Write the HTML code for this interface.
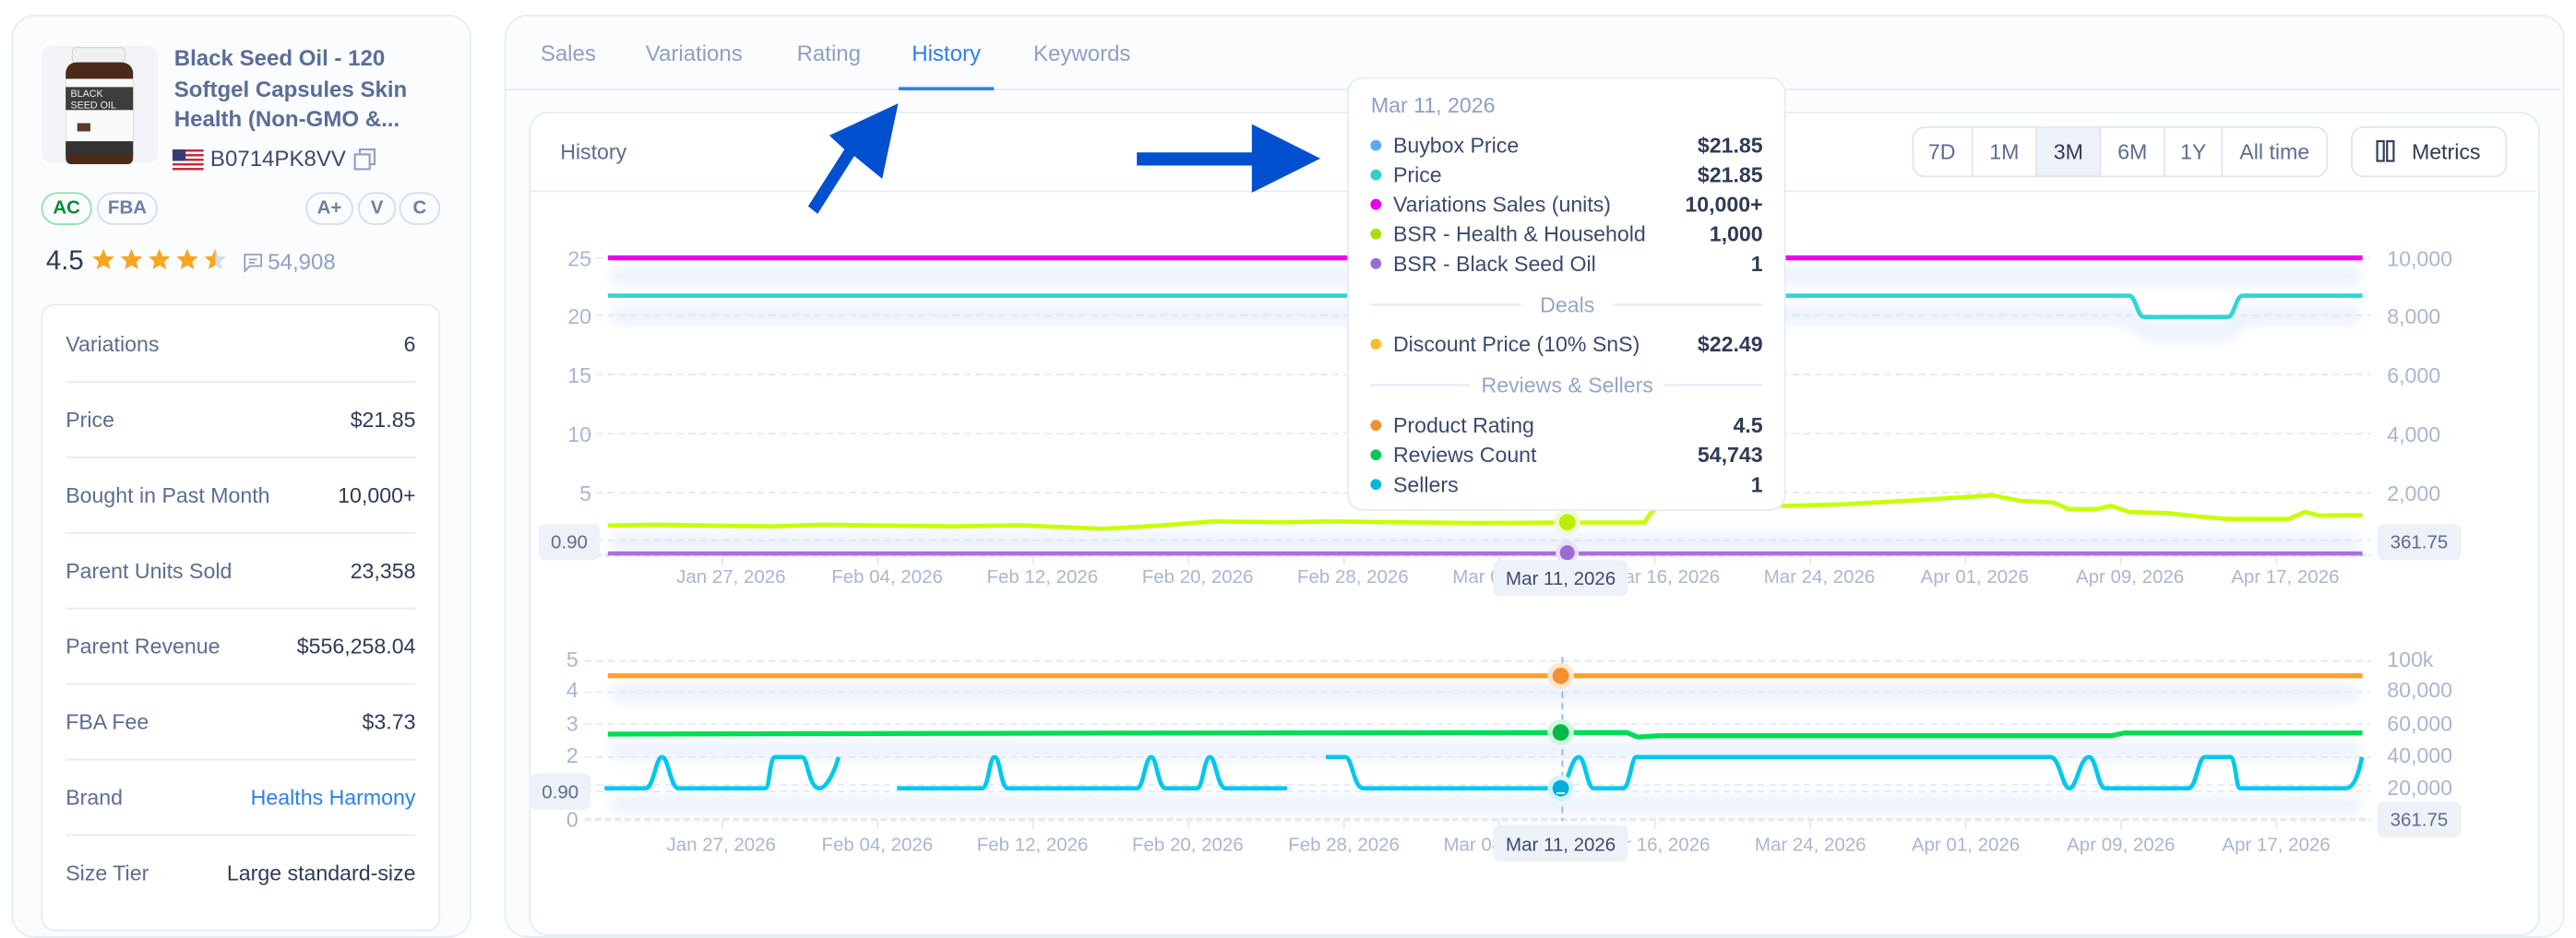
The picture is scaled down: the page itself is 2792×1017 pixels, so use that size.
<!DOCTYPE html>
<html><head><meta charset="utf-8"><style>
html,body{margin:0;padding:0;background:#fff;width:2792px;height:972px;overflow:hidden}
#s{position:absolute;left:0;top:0;width:1568px;height:546px;transform:scale(1.780612);transform-origin:0 0;font-family:"Liberation Sans",sans-serif}
.a{position:absolute}
.card{position:absolute;border:1px solid #e6ebf4;border-radius:14px;background:#fbfcfe}
.row{position:absolute;left:15px;right:15px;height:46px;border-bottom:1px solid #e6ebf4;font-size:13px;color:#5b6d90}
.row span{position:absolute;top:16px}
.row b{position:absolute;right:0;top:16px;font-weight:normal;color:#2f3b55}
.badge{position:absolute;top:117px;height:18px;border:1px solid #d5dcea;border-radius:10px;font-size:11.5px;font-weight:bold;color:#6d7fa3;text-align:center;line-height:18px}
</style></head><body><div id="s">
<div class="card" style="left:7px;top:9px;width:278px;height:560px"></div>
<div class="a" style="left:25px;top:28px;width:71px;height:71px;background:#f2f4f8;border-radius:6px"></div>
<svg class="a" style="left:25px;top:28px" width="71" height="72">
<rect x="19" y="1" width="32" height="9" rx="2" fill="#f0f0f0" stroke="#ccc" stroke-width=".5"/>
<path d="M15 16 Q16 10 22 10 L48 10 Q55 10 56 16 L56 68 Q56 72 52 72 L19 72 Q15 72 15 68Z" fill="#4a2b1a"/>
<rect x="15" y="20" width="41" height="44" fill="#fafafa"/>
<rect x="15" y="25" width="41" height="14" fill="#3d3d3d"/>
<text x="18" y="31" font-size="6" fill="#eee">BLACK</text><text x="18" y="38" font-size="6" fill="#eee">SEED OIL</text>
<rect x="15" y="58" width="41" height="8" fill="#333"/>
<rect x="22" y="47" width="8" height="5" fill="#5a3a2a"/>
</svg>
<div class="a" style="left:106px;top:27px;width:170px;font-size:13.5px;font-weight:bold;color:#5a6e98;line-height:18.5px">Black Seed Oil - 120<br>Softgel Capsules Skin<br>Health (Non-GMO &amp;...</div>
<svg class="a" style="left:105px;top:91px" width="19" height="13"><rect width="19" height="13" fill="#fff"/><g fill="#c8283a"><rect y="0" width="19" height="1.4"/><rect y="2.8" width="19" height="1.4"/><rect y="5.6" width="19" height="1.4"/><rect y="8.4" width="19" height="1.4"/><rect y="11.2" width="19" height="1.4"/></g><rect width="8" height="7" fill="#3c3b6e"/></svg>
<div class="a" style="left:128px;top:89px;font-size:13.5px;color:#3b4a6b">B0714PK8VV</div>
<svg class="a" style="left:215px;top:90px" width="15" height="15"><rect x="4" y="1" width="9" height="9" fill="none" stroke="#8ea0c4" stroke-width="1.2"/><rect x="1" y="4" width="9" height="9" fill="#fbfcfe" stroke="#8ea0c4" stroke-width="1.2"/></svg>
<div class="badge" style="left:25px;width:29px;border-color:#8fe0ad;color:#0d8a3a">AC</div>
<div class="badge" style="left:59px;width:35px">FBA</div>
<div class="badge" style="left:186px;width:27px">A+</div>
<div class="badge" style="left:218px;width:21px">V</div>
<div class="badge" style="left:243px;width:23px">C</div>
<div class="a" style="left:28px;top:150px;font-size:16.5px;color:#2f3b55">4.5</div>
<svg class="a" style="left:56px;top:151px" width="90" height="16">
<defs><linearGradient id="hs"><stop offset="50%" stop-color="#f6a623"/><stop offset="50%" stop-color="#d5dcea"/></linearGradient>
<polygon id="st" points="7,0.5 8.9,5 13.6,5.3 10,8.4 11.1,13 7,10.5 2.9,13 4,8.4 0.4,5.3 5.1,5"/></defs>
<use href="#st" fill="#f6a623"/><use href="#st" x="17" fill="#f6a623"/><use href="#st" x="34" fill="#f6a623"/><use href="#st" x="51" fill="#f6a623"/><use href="#st" x="68" fill="url(#hs)"/>
</svg>
<svg class="a" style="left:148px;top:154px" width="12" height="12"><path d="M1 1 H11 V8 H4 L1 11Z" fill="none" stroke="#8ea0c4" stroke-width="1"/><path d="M3.5 4H8.5M3.5 6H7" stroke="#8ea0c4"/></svg>
<div class="a" style="left:163px;top:152px;font-size:13.5px;color:#8ea0c4">54,908</div>
<div class="a" style="left:25px;top:185px;width:241px;height:380px;border:1px solid #e6ebf4;border-radius:8px;background:#fff"></div>
<div class="row" style="left:40px;width:213px;top:186px"><span style="left:0">Variations</span><b>6</b></div>
<div class="row" style="left:40px;width:213px;top:232px"><span style="left:0">Price</span><b>$21.85</b></div>
<div class="row" style="left:40px;width:213px;top:278px"><span style="left:0">Bought in Past Month</span><b>10,000+</b></div>
<div class="row" style="left:40px;width:213px;top:324px"><span style="left:0">Parent Units Sold</span><b>23,358</b></div>
<div class="row" style="left:40px;width:213px;top:370px"><span style="left:0">Parent Revenue</span><b>$556,258.04</b></div>
<div class="row" style="left:40px;width:213px;top:416px"><span style="left:0">FBA Fee</span><b>$3.73</b></div>
<div class="row" style="left:40px;width:213px;top:462px"><span style="left:0">Brand</span><b style="color:#2f7fe8">Healths Harmony</b></div>
<div class="row" style="left:40px;width:213px;top:508px;border:none"><span style="left:0">Size Tier</span><b>Large standard-size</b></div>
<div class="card" style="left:307px;top:9px;width:1252px;height:560px;background:#fbfcfe"></div>
<div class="a" style="left:308px;top:54px;width:1251px;height:1px;background:#e6ebf4"></div>
<div class="a" style="left:322px;top:68px;width:1222px;height:500px;border:1px solid #e6ebf4;border-radius:12px;background:#fff"></div>
<div class="a" style="left:323px;top:116px;width:1221px;height:1px;background:#e9edf5"></div>
<svg class="a" style="left:0;top:0" width="1568" height="546" font-family="Liberation Sans, sans-serif">
<defs><filter id="bl" x="-5%" y="-100%" width="110%" height="300%"><feGaussianBlur stdDeviation="4"/></filter></defs>
<g font-size="13.5" fill="#8ea0c4"><text x="329" y="37">Sales</text><text x="393" y="37">Variations</text><text x="485" y="37">Rating</text><text x="555" y="37" fill="#2f7fe8">History</text><text x="629" y="37">Keywords</text></g>
<rect x="547" y="53" width="58" height="2" fill="#2f7fe8"/>
<text x="341" y="97" font-size="13" fill="#5b6d90">History</text>
<rect x="1164.5" y="77.5" width="252" height="30" rx="7" fill="#fff" stroke="#dfe5f0"/>
<rect x="1240" y="78" width="38.5" height="29" fill="#edf1f8"/>
<g stroke="#dfe5f0"><path d="M1200.5 78V107M1239.5 78V107M1278.5 78V107M1317.5 78V107M1352.5 78V107"/></g>
<g font-size="13" fill="#5b6d90" text-anchor="middle"><text x="1182" y="97">7D</text><text x="1220" y="97">1M</text><text x="1259" y="97" fill="#2f3b55">3M</text><text x="1298" y="97">6M</text><text x="1335" y="97">1Y</text><text x="1384.5" y="97">All time</text></g>
<rect x="1431.5" y="77.5" width="94" height="30" rx="7" fill="#fff" stroke="#dfe5f0"/>
<rect x="1447" y="86" width="4" height="12" fill="none" stroke="#2f3b55" stroke-width="1.2"/><rect x="1453" y="86" width="4" height="12" fill="none" stroke="#2f3b55" stroke-width="1.2"/>
<text x="1468" y="97" font-size="13" fill="#2f3b55">Metrics</text>
<g stroke="#e3e8f2" stroke-dasharray="4 3"><path d="M356 157H1443M356 192H1443M356 228H1443M356 264H1443M356 300H1443M356 329H1443"/></g>
<path d="M356 338H1443" stroke="#e3e8f2" stroke-width="2" stroke-dasharray="4 2"/>
<g stroke="#e3e8f2"><path d="M439.7 338v6M534.3 338v6M628.9 338v6M723.5 338v6M818.1 338v6M912.7 338v6M1007.3 338v6M1101.9 338v6M1196.5 338v6M1291.1 338v6M1385.7 338v6"/></g>
<g font-size="13" fill="#a9b6d1" text-anchor="end"><text x="360" y="162">25</text><text x="360" y="197">20</text><text x="360" y="233">15</text><text x="360" y="269">10</text><text x="360" y="305">5</text></g>
<g font-size="13" fill="#a9b6d1"><text x="1453" y="162">10,000</text><text x="1453" y="197">8,000</text><text x="1453" y="233">6,000</text><text x="1453" y="269">4,000</text><text x="1453" y="305">2,000</text></g>
<g filter="url(#bl)" opacity=".45" fill="none" stroke="#cfe0fa" stroke-width="10">
<path d="M372 168H1436"/><path d="M372 192H1296 L1306 202 H1357 L1364 192 H1436"/><path d="M372 330 H1436"/>
<path d="M372 422H1436"/><path d="M372 457H1436"/><path d="M372 490H1436"/>
</g>
<path d="M370 157H1438" stroke="#ee00ee" stroke-width="3"/>
<path d="M370 180H1296 C1300 180 1301 193 1305 193 H1356 C1360 193 1361 180 1365 180 H1438" fill="none" stroke="#34d4d4" stroke-width="2.6"/>
<path d="M370 337H1438" stroke="#a970e0" stroke-width="2.6"/>
<polyline fill="none" stroke="#c6ff00" stroke-width="2.6" stroke-linejoin="round" points="370,320 400,319.5 430,320 470,320.5 500,319.5 540,320 580,320.5 620,319.8 660,321.5 671,322 706,320 738,317.5 780,318 810,317.5 850,318 900,318.5 945,318.2 1001,318.2 1005,312 1010,308 1087,308 1123,307 1140,306 1160,305 1190,303 1213,301.6 1230,305 1250,306 1259,310 1276,310 1285,308 1296,311.7 1320,312.5 1338,314.5 1356,316 1393,316 1403,311.7 1412,314 1438,313.6"/>
<circle cx="954" cy="318" r="8" fill="#f0fad0" opacity=".9"/><circle cx="954" cy="318" r="5" fill="#b8f000"/>
<circle cx="954" cy="336.5" r="7" fill="#ece0fa"/><circle cx="954" cy="336.5" r="4.5" fill="#9b6bd6"/>
<rect x="328" y="319" width="37" height="22" rx="4" fill="#edf1f8"/><text x="346.5" y="334" font-size="11.5" fill="#5b6d90" text-anchor="middle">0.90</text>
<rect x="1447" y="319" width="51" height="22" rx="4" fill="#edf1f8"/><text x="1472.5" y="334" font-size="11.5" fill="#5b6d90" text-anchor="middle">361.75</text>
<g font-size="11.5" fill="#a9b6d1" text-anchor="middle"><text x="445" y="355">Jan 27, 2026</text><text x="540" y="355">Feb 04, 2026</text><text x="634.5" y="355">Feb 12, 2026</text><text x="729" y="355">Feb 20, 2026</text><text x="823.5" y="355">Feb 28, 2026</text><text x="918" y="355">Mar 08, 2026</text><text x="1013" y="355">Mar 16, 2026</text><text x="1107.5" y="355">Mar 24, 2026</text><text x="1202" y="355">Apr 01, 2026</text><text x="1296.5" y="355">Apr 09, 2026</text><text x="1391" y="355">Apr 17, 2026</text></g>
<rect x="909" y="341" width="82" height="22" rx="4" fill="#edf1f8"/><text x="950" y="356" font-size="11.5" fill="#3b4a6b" text-anchor="middle">Mar 11, 2026</text>
<g stroke="#e3e8f2" stroke-dasharray="4 3"><path d="M356 402.5H1443M356 421.5H1443M356 441H1443M356 461H1443M356 478H1443M356 482H1443"/></g>
<path d="M356 499H1443" stroke="#e3e8f2" stroke-width="2" stroke-dasharray="4 2"/>
<g stroke="#e3e8f2"><path d="M439.7 499v6M534.3 499v6M628.9 499v6M723.5 499v6M818.1 499v6M912.7 499v6M1007.3 499v6M1101.9 499v6M1196.5 499v6M1291.1 499v6M1385.7 499v6"/></g>
<g font-size="13" fill="#a9b6d1" text-anchor="end"><text x="352" y="406">5</text><text x="352" y="424.5">4</text><text x="352" y="445">3</text><text x="352" y="464.5">2</text><text x="352" y="503.5">0</text></g>
<g font-size="13" fill="#a9b6d1"><text x="1453" y="406">100k</text><text x="1453" y="424.5">80,000</text><text x="1453" y="445">60,000</text><text x="1453" y="464.5">40,000</text><text x="1453" y="484">20,000</text></g>
<path d="M951 400V500" stroke="#8fb6f0" stroke-dasharray="4 3"/>
<path d="M370 411.5H1438" stroke="#ffa030" stroke-width="3"/>
<polyline fill="none" stroke="#00dd55" stroke-width="3" stroke-linejoin="round" points="370,447 615,446.5 800,446.2 990,446 997,448.8 1003,448.4 1010,448 1285,448 1293,446.3 1438,446.3"/>
<g fill="none" stroke="#00c8ec" stroke-width="2.6" stroke-linejoin="round">
<path d="M368 480 L393 480 C398 480 399 461 403 461 C407 461 408 480 413 480 L465.7 480 C469 480 468 461 472 461 L488 461 C492 461 492 480 498.8 480 C503 480 508 470 510.4 461"/>
<path d="M546 480 L597.7 480 C602 480 602 461 605.4 461 C609 461 609 480 613.6 480 L692.2 480 C696 480 697 461 700.8 461 C704 461 705 480 709.4 480 L728.8 480 C732 480 733 461 736.5 461 C740 461 741 480 746 480 L783.4 480"/>
<path d="M807 461 L819 461 C823 461 824 480 829.8 480 L950 480 C954 480 956 461 961 461 C965 461 966 480 970 480 L988 480 C992 480 993 461 996 461 L1248 461 C1254 461 1255 480 1259.8 480 C1264 480 1266 461 1271.5 461 C1276 461 1277 480 1281.3 480 L1332 480 C1337 480 1338 461 1342 461 L1357.5 461 C1361 461 1361 480 1363.4 480 L1428 480 C1433 480 1436 470 1437.7 461"/>
</g>
<circle cx="950" cy="411.5" r="8" fill="#fde6cc"/><circle cx="950" cy="411.5" r="5" fill="#f4902f"/>
<circle cx="950" cy="446" r="8" fill="#d2f7df"/><circle cx="950" cy="446" r="5" fill="#00b84a"/>
<circle cx="950" cy="480" r="8" fill="#d4f3fa"/><circle cx="950" cy="480" r="5" fill="#00aedb"/><path d="M947.5 483h5" stroke="#fff"/>
<rect x="322.5" y="471" width="37" height="22" rx="4" fill="#edf1f8"/><text x="341" y="486" font-size="11.5" fill="#5b6d90" text-anchor="middle">0.90</text>
<rect x="1447" y="488" width="51" height="22" rx="4" fill="#edf1f8"/><text x="1472.5" y="503" font-size="11.5" fill="#5b6d90" text-anchor="middle">361.75</text>
<g font-size="11.5" fill="#a9b6d1" text-anchor="middle"><text x="439" y="518">Jan 27, 2026</text><text x="534" y="518">Feb 04, 2026</text><text x="628.5" y="518">Feb 12, 2026</text><text x="723" y="518">Feb 20, 2026</text><text x="818" y="518">Feb 28, 2026</text><text x="912.5" y="518">Mar 08, 2026</text><text x="1007" y="518">Mar 16, 2026</text><text x="1102" y="518">Mar 24, 2026</text><text x="1196.5" y="518">Apr 01, 2026</text><text x="1291" y="518">Apr 09, 2026</text><text x="1385.5" y="518">Apr 17, 2026</text></g>
<rect x="909" y="502.5" width="82" height="22" rx="4" fill="#edf1f8"/><text x="950" y="518" font-size="11.5" fill="#3b4a6b" text-anchor="middle">Mar 11, 2026</text>
<path d="M491.9 125.6 L497.7 130.2 L520 95 L537 108.9 L546.7 63 L504.8 82.5 L514 91Z" fill="#0050d0"/>
<path d="M692 92.8 H762 V75.6 L803.7 96.5 L762 117.3 V100.8 H692Z" fill="#0050d0"/>
<rect x="820.5" y="47.5" width="266" height="263" rx="9" fill="#fff" stroke="#e6ebf4"/>
<text x="834.5" y="68.5" font-size="13" fill="#8ea0c4">Mar 11, 2026</text>
<g font-size="13" fill="#3b4a6b">
<circle cx="837.5" cy="88.5" r="3.3" fill="#5aa9f5"/><text x="848" y="93">Buybox Price</text>
<circle cx="837.5" cy="106.5" r="3.3" fill="#2ecfcf"/><text x="848" y="111">Price</text>
<circle cx="837.5" cy="124.5" r="3.3" fill="#e600f0"/><text x="848" y="129">Variations Sales (units)</text>
<circle cx="837.5" cy="142.5" r="3.3" fill="#a8e000"/><text x="848" y="147">BSR - Health &amp; Household</text>
<circle cx="837.5" cy="160.5" r="3.3" fill="#9b6bd6"/><text x="848" y="165">BSR - Black Seed Oil</text>
<circle cx="837.5" cy="209.5" r="3.3" fill="#fbbd2e"/><text x="848" y="214">Discount Price (10% SnS)</text>
<circle cx="837.5" cy="259" r="3.3" fill="#f0902f"/><text x="848" y="263.5">Product Rating</text>
<circle cx="837.5" cy="277" r="3.3" fill="#00c853"/><text x="848" y="281.5">Reviews Count</text>
<circle cx="837.5" cy="295" r="3.3" fill="#00b8dc"/><text x="848" y="299.5">Sellers</text>
</g>
<g font-size="13" font-weight="bold" fill="#2f3b55" text-anchor="end">
<text x="1073" y="93">$21.85</text><text x="1073" y="111">$21.85</text><text x="1073" y="129">10,000+</text><text x="1073" y="147">1,000</text><text x="1073" y="165">1</text><text x="1073" y="214">$22.49</text><text x="1073" y="263.5">4.5</text><text x="1073" y="281.5">54,743</text><text x="1073" y="299.5">1</text>
</g>
<g stroke="#e3e8f2"><path d="M834 185.5H926M982 185.5H1073M834 234.5H895M1013 234.5H1073"/></g>
<g font-size="13" fill="#94a6c8" text-anchor="middle"><text x="954" y="190">Deals</text><text x="954" y="239">Reviews &amp; Sellers</text></g>
</svg>
</div></body></html>
